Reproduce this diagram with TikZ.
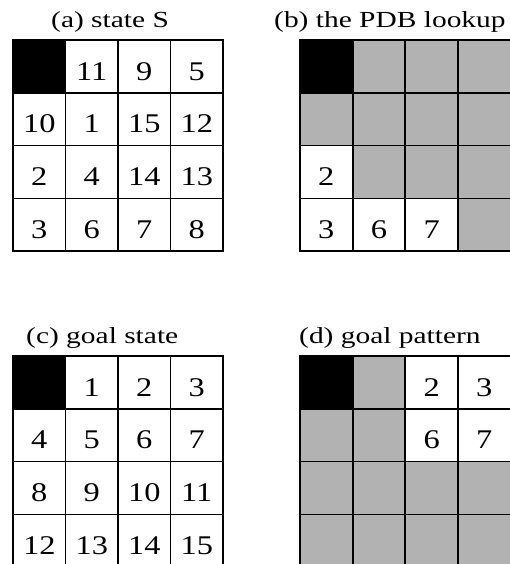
\documentclass[tikz,border=0pt]{standalone}
\usepackage{fontspec}
\setmainfont{Liberation Serif}
\usepackage{graphicx}
\def\myK{K}
\def\myG{G}
\begin{document}
\begin{tikzpicture}[x=1pt,y=-1pt,
  cell/.style={draw=black, line width=1.6pt, minimum width=52.5pt, minimum height=52.8pt,
    inner sep=0pt, outer sep=0pt, text height=27.5pt, text depth=0pt,
    font=\fontsize{27}{27}\selectfont},
  blank/.style={cell, fill=black},
  grey/.style={cell, fill=black!30},
  plain/.style={cell, fill=white},
  title/.style={anchor=base west, inner sep=0pt, font=\fontsize{23}{23}\selectfont}]
\useasboundingbox (0,0) rectangle (509,564);
% grid (a)
\foreach \r/\row in {0/{K,11,9,5},1/{10,1,15,12},2/{2,4,14,13},3/{3,6,7,8}}{
  \foreach \v [count=\c from 0] in \row {
    \ifx\v\myK
      \node[blank] (a-\r-\c) at ({13+52.5*(\c+0.5)},{40+52.8*(\r+0.5)}) {};
    \else
      \node[plain] (a-\r-\c) at ({13+52.5*(\c+0.5)},{40+52.8*(\r+0.5)}) {\scalebox{1.2}[1]{\v}};
    \fi
  }
}
% grid (b)
\foreach \r/\row in {0/{K,G,G,G},1/{G,G,G,G},2/{2,G,G,G},3/{3,6,7,G}}{
  \foreach \v [count=\c from 0] in \row {
    \ifx\v\myK
      \node[blank] (b-\r-\c) at ({300+52.65*(\c+0.5)},{40+52.8*(\r+0.5)}) {};
    \else\ifx\v\myG
      \node[grey] (b-\r-\c) at ({300+52.65*(\c+0.5)},{40+52.8*(\r+0.5)}) {};
    \else
      \node[plain] (b-\r-\c) at ({300+52.65*(\c+0.5)},{40+52.8*(\r+0.5)}) {\scalebox{1.2}[1]{\v}};
    \fi\fi
  }
}
% grid (c)
\foreach \r/\row in {0/{K,1,2,3},1/{4,5,6,7},2/{8,9,10,11},3/{12,13,14,15}}{
  \foreach \v [count=\c from 0] in \row {
    \ifx\v\myK
      \node[blank] (c-\r-\c) at ({13+52.5*(\c+0.5)},{356+52.8*(\r+0.5)}) {};
    \else
      \node[plain] (c-\r-\c) at ({13+52.5*(\c+0.5)},{356+52.8*(\r+0.5)}) {\scalebox{1.2}[1]{\v}};
    \fi
  }
}
% grid (d)
\foreach \r/\row in {0/{K,G,2,3},1/{G,G,6,7},2/{G,G,G,G},3/{G,G,G,G}}{
  \foreach \v [count=\c from 0] in \row {
    \ifx\v\myK
      \node[blank] (d-\r-\c) at ({300+52.65*(\c+0.5)},{356+52.8*(\r+0.5)}) {};
    \else\ifx\v\myG
      \node[grey] (d-\r-\c) at ({300+52.65*(\c+0.5)},{356+52.8*(\r+0.5)}) {};
    \else
      \node[plain] (d-\r-\c) at ({300+52.65*(\c+0.5)},{356+52.8*(\r+0.5)}) {\scalebox{1.2}[1]{\v}};
    \fi\fi
  }
}
% titles
\node[title] (ta) at (51,28) {\scalebox{1.28}[1]{(a) state S}};
\node[title] (tb) at (274,28) {\scalebox{1.28}[1]{(b) the PDB lookup}};
\node[title] (tc) at (26,343) {\scalebox{1.28}[1]{(c) goal state}};
\node[title] (td) at (299,343) {\scalebox{1.28}[1]{(d) goal pattern}};
\end{tikzpicture}
\end{document}
